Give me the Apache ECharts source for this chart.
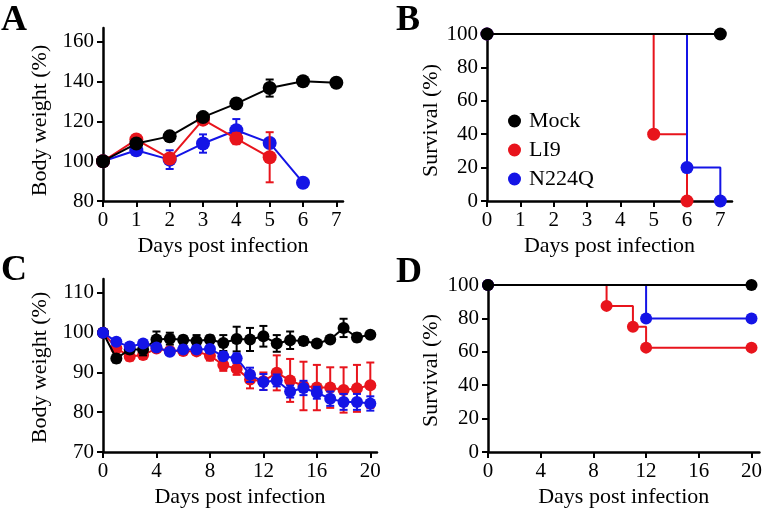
<!DOCTYPE html>
<html><head><meta charset="utf-8">
<script src="https://cdn.jsdelivr.net/npm/echarts@6/dist/echarts.min.js"></script>
<style>html,body{margin:0;padding:0;background:#fff}#c{width:765px;height:511px}</style>
</head><body><div id="c"></div>
<script>
// ---- Data ----
const seriesNames = ['Mock', 'LI9', 'N224Q'];
const colors = ['#000000', '#e8141c', '#1414e6'];

// Panel A: body weight (%) days 0-7
const daysA = [0, 1, 2, 3, 4, 5, 6, 7];
const mockA = [100, 108.9, 112.5, 122.2, 129, 136.8, 140.2, 139.5];
const mockAErr = [0, 0.8, 0.8, 0.8, 0.8, 4.3, 0.5, 0.5];
const li9A = [100, 110.9, 101.4, 120.9, 111.4, 102];
const li9AErr = [0, 1, 1, 1, 2.8, 12.6];
const n224qA = [100, 105.5, 100.8, 108.9, 115.6, 109.2, 89.2];
const n224qAErr = [0, 1, 4.7, 4.6, 5.6, 1, 0];

// Panel B: survival (%) days 0-7
const mockBDays = [0, 7];
const mockB = [100, 100];
const li9BDays = [0, 5, 6];
const li9B = [100, 40, 0];
const n224qBDays = [0, 6, 7];
const n224qB = [100, 20, 0];

// Panel C: body weight (%) days 0-20
const daysC = [0,1,2,3,4,5,6,7,8,9,10,11,12,13,14,15,16,17,18,19,20];
const mockC = [100, 93.5, 95.8, 95.8, 98.3, 98.5, 98.2, 97.9, 98.3, 97.4, 98.4, 98.3, 99.1, 97.3, 98.1, 97.9, 97.3, 98.3, 101.2, 98.8, 99.5];
const mockCErr = [0, 1, 1, 1.5, 2, 1.5, 1, 1.5, 1, 2, 3.1, 2.9, 2.6, 2.1, 2.2, 1, 0.5, 0.5, 2.3, 1, 0.5];
const li9C = [100, 96.1, 94, 94.4, 96, 95.4, 95.4, 95.3, 94.2, 91.9, 90.9, 88.2, 87.8, 89.9, 88, 86.6, 86.2, 86.2, 85.6, 86, 86.8];
const li9CErr = [0, 1, 1, 1, 0.8, 0.8, 0.8, 0.8, 1.2, 1.5, 1.5, 2.2, 2.2, 4.4, 5.4, 6.1, 5.7, 5.1, 5.7, 5.9, 5.7];
const n224qC = [100, 97.7, 96.5, 97.3, 96.3, 95.2, 95.8, 95.8, 95.9, 94.1, 93.6, 89.4, 87.6, 88, 85.2, 86.1, 84.9, 83.4, 82.6, 82.6, 82.2];
const n224qCErr = [0, 0.8, 0.8, 0.8, 0.8, 0.8, 0.8, 0.8, 0.8, 1, 1.2, 1.8, 2, 1.5, 1.5, 1.8, 1.5, 1.8, 2, 2, 1.8];

// Panel D: survival (%) days 0-20
const mockDDays = [0, 20];
const mockD = [100, 100];
const li9DDays = [0, 9, 11, 12, 20];
const li9D = [100, 87.5, 75, 62.5, 62.5];
const n224qDDays = [0, 12, 20];
const n224qD = [100, 80, 80];

// Tick labels
const ticksA_x = [0, 1, 2, 3, 4, 5, 6, 7];
const ticksA_y = [80, 100, 120, 140, 160];
const ticksB_y = [0, 20, 40, 60, 80, 100];
const ticksC_x = [0, 4, 8, 12, 16, 20];
const ticksC_y = [70, 80, 90, 100, 110];

// ---- Build ----
const FONT = '"Liberation Serif", "Times New Roman", serif';
const pairs = (xs, ys) => xs.map((x, i) => [x, ys[i]]).filter(p => p[1] != null);
const errData = (xs, ys, es) => ys.map((y, i) => [xs[i], y - es[i], y + es[i]]).filter(d => d[2] - d[1] > 0.01);

function xAxis(grid, max, ticks) {
  return {
    type: 'value', gridIndex: grid, min: 0, max: max,
    name: 'Days post infection', nameLocation: 'middle', nameGap: 34,
    nameTextStyle: { fontSize: 22, color: '#000', fontFamily: FONT },
    axisLine: { show: true, onZero: false, lineStyle: { color: '#000', width: 2.5 } },
    axisTick: { show: true, length: 6, customValues: ticks, lineStyle: { color: '#000', width: 2 } },
    axisLabel: { customValues: ticks, fontSize: 21, color: '#000', fontFamily: FONT, margin: 9 },
    splitLine: { show: false }
  };
}
function yAxis(grid, min, max, ticks, name, gap, shift) {
  return {
    type: 'value', gridIndex: grid, min: min, max: max,
    name: name, nameLocation: 'middle', nameGap: gap,
    nameTextStyle: { fontSize: 22, color: '#000', fontFamily: FONT, padding: [0, shift, 0, 0] },
    axisLine: { show: true, onZero: false, lineStyle: { color: '#000', width: 2.5 } },
    axisTick: { show: true, length: 6, customValues: ticks, lineStyle: { color: '#000', width: 2 } },
    axisLabel: { customValues: ticks, fontSize: 21, color: '#000', fontFamily: FONT, margin: 9 },
    splitLine: { show: false }
  };
}

function lineSeries(name, idx, data, color, size, step, z) {
  return {
    type: 'line', name: name, xAxisIndex: idx, yAxisIndex: idx, data: data,
    step: step || false, symbol: 'circle', symbolSize: size, showSymbol: true,
    lineStyle: { color: color, width: 2 }, itemStyle: { color: color },
    z: z, animation: false, emphasis: { disabled: true }
  };
}
function errSeries(name, idx, data, color, z) {
  return {
    type: 'custom', name: name + ' err', xAxisIndex: idx, yAxisIndex: idx, data: data,
    encode: { x: 0, y: [1, 2] }, z: z, animation: false, silent: true,
    renderItem: function (params, api) {
      const x = api.value(0), lo = api.value(1), hi = api.value(2);
      const a = api.coord([x, hi]), b = api.coord([x, lo]);
      const w = 4;
      const st = { stroke: color, lineWidth: 2 };
      return { type: 'group', children: [
        { type: 'line', shape: { x1: a[0], y1: a[1], x2: b[0], y2: b[1] }, style: st },
        { type: 'line', shape: { x1: a[0] - w, y1: a[1], x2: a[0] + w, y2: a[1] }, style: st },
        { type: 'line', shape: { x1: b[0] - w, y1: b[1], x2: b[0] + w, y2: b[1] }, style: st }
      ] };
    }
  };
}

const option = {
  animation: false,
  backgroundColor: '#fff',
  textStyle: { fontFamily: FONT },
  grid: [
    { left: 103, top: 28, width: 240, height: 173 },
    { left: 487, top: 34, width: 245, height: 167 },
    { left: 103, top: 279, width: 274, height: 173 },
    { left: 488, top: 285, width: 275, height: 167 }
  ],
  xAxis: [
    xAxis(0, 7.2, ticksA_x),
    xAxis(1, 7.35, ticksA_x),
    xAxis(2, 20.5, ticksC_x),
    xAxis(3, 20.6, ticksC_x)
  ],
  yAxis: [
    yAxis(0, 80, 167, ticksA_y, 'Body weight (%)', 52, 12),
    yAxis(1, 0, 100, ticksB_y, 'Survival (%)', 45, 6),
    yAxis(2, 70, 113.5, ticksC_y, 'Body weight (%)', 52, 4),
    yAxis(3, 0, 100, ticksB_y, 'Survival (%)', 46, 4)
  ],
  legend: {
    data: seriesNames, orient: 'vertical', left: 503, top: 105,
    icon: 'circle', itemWidth: 13, itemHeight: 13, itemGap: 7,
    textStyle: { fontSize: 22, color: '#000', fontFamily: FONT, padding: [0, 0, 0, 3] },
    selectedMode: false
  },
  graphic: [
    { type: 'text', left: 1, top: 3, style: { text: 'A', font: 'bold 36px ' + FONT, fill: '#000' } },
    { type: 'text', left: 396, top: 3, style: { text: 'B', font: 'bold 36px ' + FONT, fill: '#000' } },
    { type: 'text', left: 1, top: 253, style: { text: 'C', font: 'bold 36px ' + FONT, fill: '#000' } },
    { type: 'text', left: 396, top: 255, style: { text: 'D', font: 'bold 36px ' + FONT, fill: '#000' } }
  ],
  series: [
    // Panel A
    errSeries('N224Q', 0, errData(daysA, n224qA, n224qAErr), colors[2], 3),
    lineSeries('N224Q', 0, pairs(daysA, n224qA), colors[2], 14, false, 4),
    errSeries('LI9', 0, errData(daysA, li9A, li9AErr), colors[1], 5),
    lineSeries('LI9', 0, pairs(daysA, li9A), colors[1], 14, false, 6),
    errSeries('Mock', 0, errData(daysA, mockA, mockAErr), colors[0], 7),
    lineSeries('Mock', 0, pairs(daysA, mockA), colors[0], 14, false, 8),
    // Panel B
    lineSeries('LI9', 1, pairs(li9BDays, li9B), colors[1], 13, 'end', 4),
    lineSeries('N224Q', 1, pairs(n224qBDays, n224qB), colors[2], 13, 'end', 5),
    lineSeries('Mock', 1, pairs(mockBDays, mockB), colors[0], 13, false, 6),
    // Panel C
    errSeries('LI9', 2, errData(daysC, li9C, li9CErr), colors[1], 3),
    lineSeries('LI9', 2, pairs(daysC, li9C), colors[1], 12, false, 4),
    errSeries('Mock', 2, errData(daysC, mockC, mockCErr), colors[0], 5),
    lineSeries('Mock', 2, pairs(daysC, mockC), colors[0], 12, false, 6),
    errSeries('N224Q', 2, errData(daysC, n224qC, n224qCErr), colors[2], 7),
    lineSeries('N224Q', 2, pairs(daysC, n224qC), colors[2], 12, false, 8),
    // Panel D
    lineSeries('LI9', 3, pairs(li9DDays, li9D), colors[1], 12, 'end', 4),
    lineSeries('N224Q', 3, pairs(n224qDDays, n224qD), colors[2], 12, 'end', 5),
    lineSeries('Mock', 3, pairs(mockDDays, mockD), colors[0], 12, false, 6)
  ]
};

const chart = echarts.init(document.getElementById('c'), null, { renderer: 'canvas' });
chart.setOption(option);
</script>
</body></html>
